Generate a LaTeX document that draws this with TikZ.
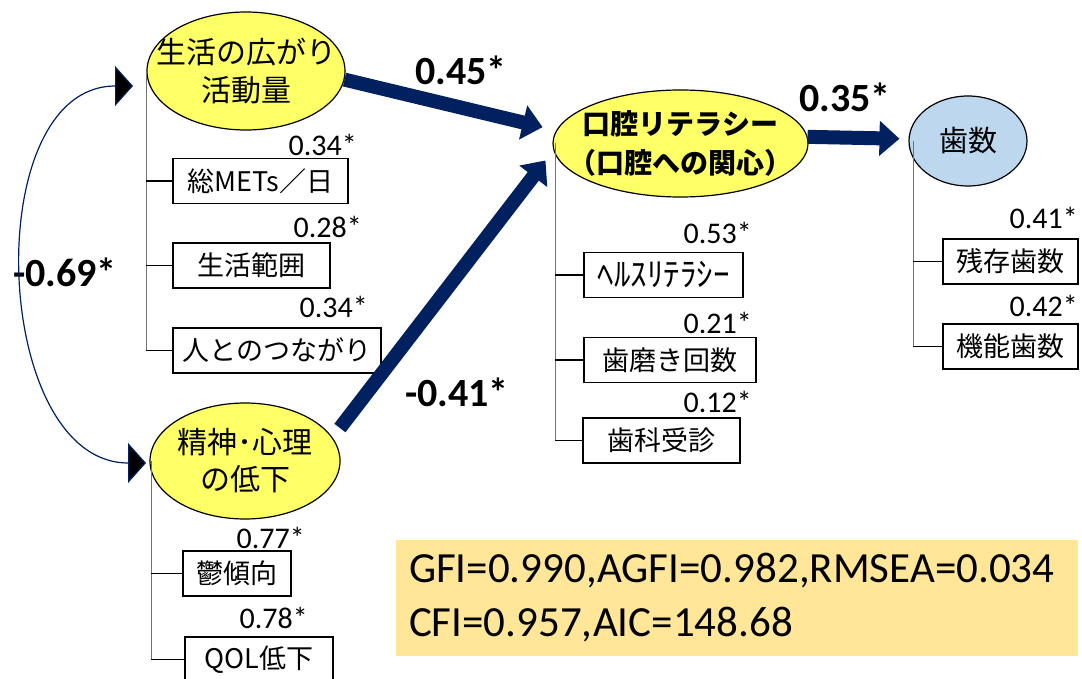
\documentclass[tikz,border=0pt]{standalone}
\usepackage{fontspec}
\setmainfont{Carlito}
\newfontfamily\jp{Noto Sans CJK JP}
\usetikzlibrary{shapes.geometric,arrows.meta}
\definecolor{navy}{RGB}{0,32,96}
\definecolor{ylw}{RGB}{255,255,102}
\definecolor{lblue}{RGB}{189,215,238}
\definecolor{gfibg}{RGB}{255,230,153}
\begin{document}
\begin{tikzpicture}[x=1pt,y=-1pt,
  ell/.style={shape=ellipse,draw=black,line width=1.2pt,inner sep=0pt},
  etext/.style={align=center,inner sep=0pt,font=\jp\fontsize{30}{38}\selectfont},
  obs/.style={draw=black,line width=1.3pt,fill=white,inner sep=0pt,minimum height=45pt,font=\jp\fontsize{27}{32}\selectfont},
  coef/.style={anchor=east,inner sep=0pt,font=\fontsize{30}{36}\selectfont},
  pathlbl/.style={font=\bfseries\fontsize{40}{48}\selectfont,inner sep=0pt},
  bigarrow/.style={draw=navy,line width=14pt,-{Triangle[length=20pt,width=34pt]}},
  vline/.style={draw=black!55,line width=1pt},
  tickln/.style={draw=black,line width=1.6pt}
]
\useasboundingbox (0,0) rectangle (1082,679);

% latent variables
\node[ell,fill=ylw,minimum width=198pt,minimum height=118pt] (e1) at (246,71) {};
\node[etext] (e1t) at (e1) {生活の広がり\\活動量};
\node[ell,fill=ylw,minimum width=190pt,minimum height=116pt] (e2) at (245,461) {};
\node[etext,font=\jp\fontsize{30}{37}\selectfont] (e2t) at (e2) {精神･心理\\の低下};
\node[ell,fill=ylw,minimum width=255pt,minimum height=107pt] (e3) at (680.5,143.5) {};
\node[etext,font=\jp\bfseries\fontsize{28}{39}\selectfont] (e3t) at (e3) {口腔リテラシー\\（口腔への関心）};
\node[ell,fill=lblue,minimum width=118pt,minimum height=90pt] (e4) at (968,141) {};
\node[etext,font=\jp\fontsize{29}{36}\selectfont] (e4t) at (e4) {歯数};

% observed variables
\node[obs,minimum width=175pt] (b11) at (260.5,181) {総METs／日};
\node[obs,minimum width=157pt] (b12) at (251.5,265.5) {生活範囲};
\node[obs,minimum width=208pt] (b13) at (277,350.5) {人とのつながり};
\node[obs,minimum width=108pt] (b21) at (237,573.5) {鬱傾向};
\node[obs,minimum width=148pt] (b22) at (259,659.5) {QOL低下};
\node[obs,minimum width=159pt,font=\jp\fontsize{33}{34}\selectfont] (b31) at (663.5,275) {ﾍﾙｽﾘﾃﾗｼｰ};
\node[obs,minimum width=172pt] (b32) at (670,360) {歯磨き回数};
\node[obs,minimum width=157pt] (b33) at (661.5,440.5) {歯科受診};
\node[obs,minimum width=135pt] (b41) at (1010.5,261.5) {残存歯数};
\node[obs,minimum width=135pt] (b42) at (1010.5,346.5) {機能歯数};

% loadings
\node[coef] (c11) at (357,145) {0.34*};
\node[coef] (c12) at (362,227) {0.28*};
\node[coef] (c13) at (368,307) {0.34*};
\node[coef] (c21) at (305,538) {0.77*};
\node[coef] (c22) at (308,618) {0.78*};
\node[coef] (c31) at (752,233) {0.53*};
\node[coef] (c32) at (752,323) {0.21*};
\node[coef] (c33) at (752,402) {0.12*};
\node[coef] (c41) at (1078,218) {0.41*};
\node[coef] (c42) at (1078,306) {0.42*};

% bracket connectors
\draw[vline] (e1.west) -- (e1.west |- b13.west);
\draw[tickln] (e1.west |- b11.west) -- (b11.west);
\draw[tickln] (e1.west |- b12.west) -- (b12.west);
\draw[tickln] (e1.west |- b13.west) -- (b13.west);

\draw[vline] ([xshift=2pt]e2.west) -- ([xshift=2pt]e2.west |- b22.west);
\draw[tickln] ([xshift=2pt]e2.west |- b21.west) -- (b21.west);
\draw[tickln] ([xshift=2pt]e2.west |- b22.west) -- (b22.west);

\draw[vline] ([xshift=3pt]e3.west) -- ([xshift=3pt]e3.west |- b33.west);
\draw[tickln] ([xshift=3pt]e3.west |- b31.west) -- (b31.west);
\draw[tickln] ([xshift=3pt]e3.west |- b32.west) -- (b32.west);
\draw[tickln] ([xshift=3pt]e3.west |- b33.west) -- (b33.west);

\draw[vline] ([xshift=5pt]e4.west) -- ([xshift=5pt]e4.west |- b42.west);
\draw[tickln] ([xshift=5pt]e4.west |- b41.west) -- (b41.west);
\draw[tickln] ([xshift=5pt]e4.west |- b42.west) -- (b42.west);

% structural paths
\draw[bigarrow,shorten >=14pt] (e1.-5) -- (e3.174);
\draw[bigarrow,shorten <=12pt,shorten >=13pt] (e2.15) -- (e3.183);
\draw[bigarrow,shorten >=9pt] (e3.3) -- (e4.178);

\node[pathlbl] (l1) at (461,70) {0.45*};
\node[pathlbl] (l2) at (457,392) {-0.41*};
\node[pathlbl] (l3) at (845,97) {0.35*};
\node[pathlbl] (l4) at (65,272) {-0.69*};

% covariance
\coordinate (ct) at (133,86);
\coordinate (cb) at (146,463);
\draw[draw=navy,line width=1.2pt,{Triangle[length=18pt,width=40pt,fill=black]}-{Triangle[length=18pt,width=40pt,fill=black]}]
  (cb) to[out=180,in=180,looseness=1.05] (ct);

% fit indices
\node[fill=gfibg,minimum width=682pt,minimum height=116pt,text width=656pt,align=left,inner sep=0pt,
  font=\fontsize{43}{54}\selectfont] (fit) at (737,598) {GFI=0.990,AGFI=0.982,RMSEA=0.034\\CFI=0.957,AIC=148.68};
\end{tikzpicture}
\end{document}
